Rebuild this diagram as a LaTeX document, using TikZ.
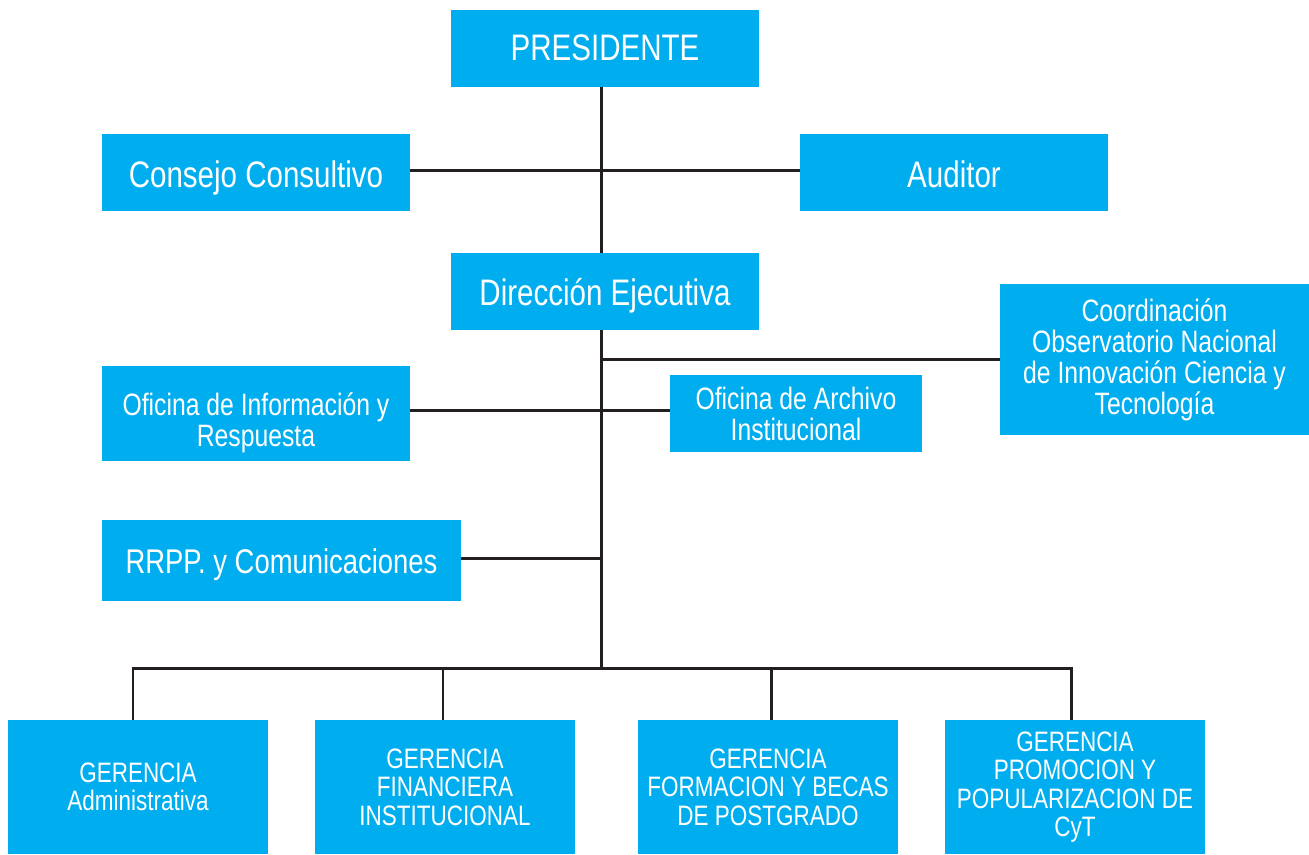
\documentclass[tikz,border=0pt]{standalone}
\usepackage{fontspec}
\setmainfont{Liberation Sans}[FakeStretch=0.8]
\definecolor{orgblue}{HTML}{00AEEF}
\definecolor{orgline}{HTML}{231F20}

\begin{document}
\begin{tikzpicture}
    [
    box/.style = {fill=orgblue,text=white,inner sep=0pt,align=center,minimum width=6.16cm,minimum height=1.54cm}
    , unit/.style = {box,text depth=0pt,font=\fontsize{21}{21}\selectfont}
    , mid/.style = {box,font=\fontsize{17.6}{17.6}\selectfont}
    , ger/.style = {box,minimum width=5.2cm,minimum height=2.68cm,font=\fontsize{16}{16.2}\selectfont}
    , link/.style = {orgline,line width=1.7pt}
    ]
\useasboundingbox (0,0) rectangle (26.18,-17.08);

\node[unit] (pres) at (12.10,-0.96) {PRESIDENTE};
\node[unit] (consejo) at (5.12,-3.45) {\raisebox{-1.5pt}{Consejo Consultivo}};
\node[unit] (auditor) at (19.08,-3.45) {\raisebox{-1.5pt}{Auditor}};
\node[unit] (direccion) at (12.10,-5.83) {Dirección Ejecutiva};

\node[mid,minimum width=6.18cm,minimum height=3.02cm] (coord) at (23.09,-7.19)
    {Coordinación\\Observatorio Nacional\\de Innovación Ciencia y\\Tecnología};
\node[mid,minimum height=1.90cm] (ofinfo) at (5.12,-8.27)
    {\raisebox{-6pt}[\height][\depth]{\begin{tabular}{@{}c@{}}Oficina de Información y\\Respuesta\end{tabular}}};
\node[mid,minimum width=5.04cm] (archivo) at (15.92,-8.27) {Oficina de Archivo\\Institucional};
\node[unit,minimum width=7.18cm,minimum height=1.62cm,font=\fontsize{19.5}{19.5}\selectfont] (rrpp) at (5.63,-11.21)
    {\raisebox{-1pt}{RRPP. y Comunicaciones}};

% gerencias
\node[ger] (g1) at (2.76,-15.74) {GERENCIA\\Administrativa};
\node[ger] (g2) at (8.90,-15.74) {GERENCIA\\FINANCIERA\\INSTITUCIONAL};
\node[ger] (g3) at (15.36,-15.74) {GERENCIA\\FORMACION Y BECAS\\DE POSTGRADO};
\node[ger] (g4) at (21.50,-15.74) {GERENCIA\\PROMOCION Y\\POPULARIZACION DE\\CyT};

\coordinate (spine) at (12.02,0);
\coordinate (bus) at (12.02,-13.36);

\draw[link] (pres.south -| spine) -- (direccion.north -| spine);
\draw[link] ([yshift=0.05cm]consejo.east) -- ([yshift=0.05cm]auditor.west);
\draw[link] (direccion.south -| spine) -- (bus);
\draw[link] (coord.west -| spine) -- (coord.west);
\draw[link] ([yshift=0.07cm]ofinfo.east) -- ([yshift=0.07cm]archivo.west);
\draw[link] ([yshift=0.05cm]rrpp.east) -- ([yshift=0.05cm]rrpp.east -| spine);
\foreach \g/\dx in {g1/-0.10,g2/-0.04,g3/0.06,g4/-0.08}
    \draw[link] ([xshift=\dx cm]\g.north |- bus) -- ([xshift=\dx cm]\g.north);
\draw[link,line cap=rect] ([xshift=-0.10cm]g1.north |- bus) -- ([xshift=-0.08cm]g4.north |- bus);
\end{tikzpicture}
\end{document}
